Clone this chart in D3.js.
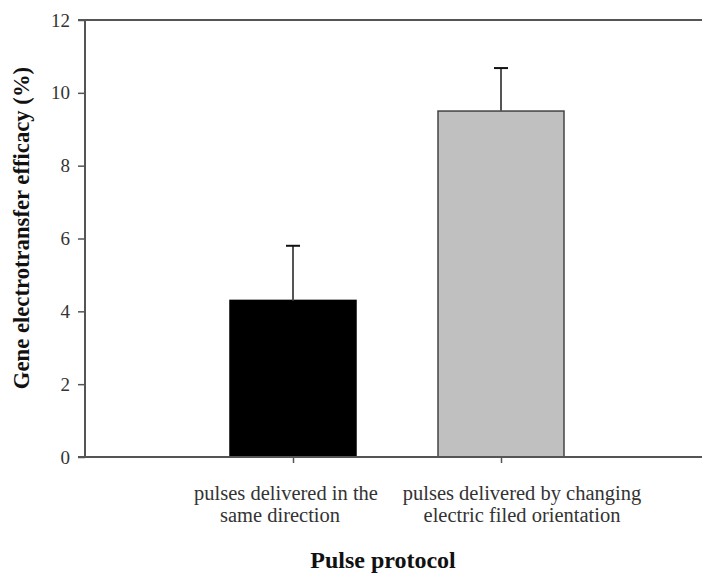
<!DOCTYPE html>
<html><head><meta charset="utf-8">
<script src="https://cdn.jsdelivr.net/npm/d3@7"></script>
<style>body{margin:0;background:#fff}svg{display:block}</style>
</head><body>
<script>
const categories = [
  ["pulses delivered in the", "same direction"],
  ["pulses delivered by changing", "electric filed orientation"]
];
const values = [4.3, 9.5];
const errors = [1.5, 1.18];
const barColors = ["#000000", "#c0c0c0"];
const yTicks = [0, 2, 4, 6, 8, 10, 12];

const W = 702, H = 573;
const svg = d3.select("body").append("svg").attr("width", W).attr("height", H);

const y = d3.scaleLinear().domain([0, 12]).range([457, 20]);
const keys = categories.map((c, i) => i);
const xp = d3.scalePoint().domain(keys).range([85, 709]).padding(1);

const font = "'Liberation Serif', 'Times New Roman', serif";
const axisCol = "#555";

// bars
svg.selectAll("rect.bar").data(values).join("rect")
  .attr("x", (d, i) => xp(i) - 63)
  .attr("width", 126)
  .attr("y", d => y(d))
  .attr("height", d => y(0) - y(d))
  .attr("fill", (d, i) => barColors[i])
  .attr("stroke", (d, i) => i === 0 ? "#000" : "#444")
  .attr("stroke-width", 1.5);

// error bars
const eg = svg.selectAll("g.err").data(values).join("g").attr("stroke", "#555").attr("stroke-width", 2);
eg.append("line").attr("x1", (d, i) => xp(i)).attr("x2", (d, i) => xp(i))
  .attr("y1", d => y(d)).attr("y2", (d, i) => y(d + errors[i]));
eg.append("line").attr("x1", (d, i) => xp(i) - 7).attr("x2", (d, i) => xp(i) + 7)
  .attr("y1", (d, i) => y(d + errors[i])).attr("y2", (d, i) => y(d + errors[i]))
  .attr("stroke", "#111");

// y axis
const ya = svg.append("g").attr("transform", "translate(85,0)")
  .call(d3.axisLeft(y).tickValues(yTicks).tickSize(7).tickPadding(8));
ya.select(".domain").remove();
ya.selectAll("line").attr("stroke", axisCol).attr("stroke-width", 1.5);
ya.selectAll("text").attr("font-family", font).attr("font-size", 19).attr("fill", "#333");
svg.append("line").attr("x1", 85).attr("x2", 85).attr("y1", y(12)).attr("y2", y(0) + 1)
  .attr("stroke", axisCol).attr("stroke-width", 2);
// top line
svg.append("line").attr("x1", 78).attr("x2", 702).attr("y1", y(12)).attr("y2", y(12))
  .attr("stroke", axisCol).attr("stroke-width", 2);
// bottom line
svg.append("line").attr("x1", 78).attr("x2", 702).attr("y1", y(0)).attr("y2", y(0))
  .attr("stroke", axisCol).attr("stroke-width", 2);

// x axis ticks and labels
const xa = svg.append("g").attr("transform", `translate(0,${y(0)})`)
  .call(d3.axisBottom(xp).tickSize(6).tickFormat(""));
xa.select(".domain").remove();
xa.selectAll("line").attr("stroke", axisCol).attr("stroke-width", 1.5);

// label offsets relative to the tick (the original labels are not centred on ticks)
const lineShift = [[-7, -13], [21, 21]];
const lbl = svg.selectAll("text.cat").data(categories).join("text")
  .attr("class", "cat")
  .attr("text-anchor", "middle")
  .attr("font-family", font).attr("font-size", 20.5).attr("fill", "#333");
lbl.each(function(lines, i) {
  d3.select(this).selectAll("tspan").data(lines).join("tspan")
    .attr("x", (d, j) => xp(i) + lineShift[i][j]).attr("y", (d, j) => 500 + j * 22).text(d => d);
});

// axis titles
svg.append("text").attr("x", 383).attr("y", 568).attr("text-anchor", "middle")
  .attr("font-family", font).attr("font-weight", "bold").attr("font-size", 24).attr("fill", "#111")
  .text("Pulse protocol");
svg.append("text").attr("transform", "translate(29,228) rotate(-90)").attr("text-anchor", "middle")
  .attr("font-family", font).attr("font-weight", "bold").attr("font-size", 22.7).attr("fill", "#111")
  .text("Gene electrotransfer efficacy (%)");
</script>
</body></html>
